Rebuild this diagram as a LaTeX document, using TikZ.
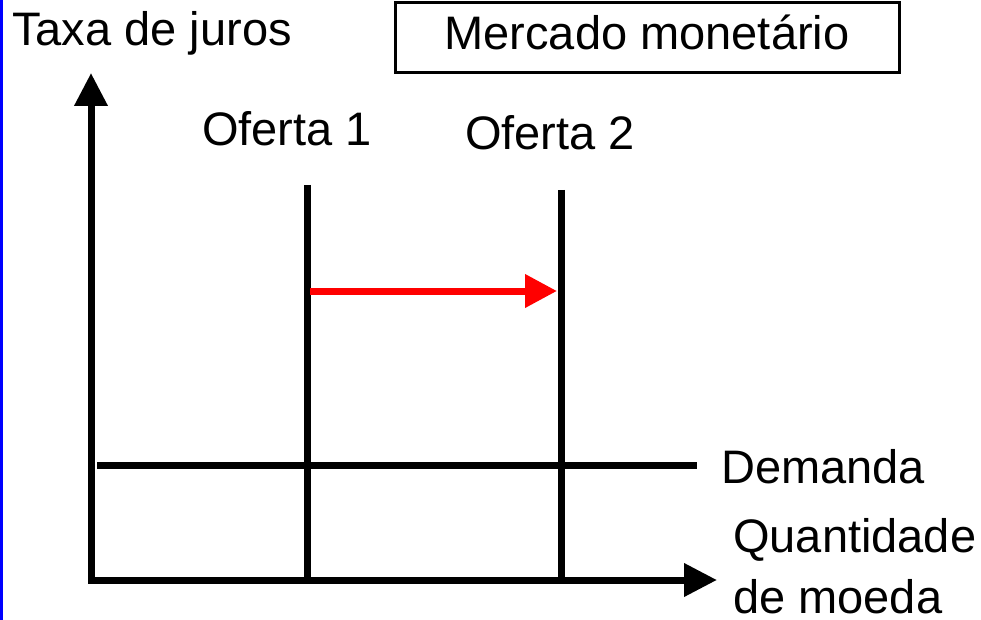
\documentclass[tikz,border=0pt]{standalone}
\usepackage{fontspec}
\setmainfont{Liberation Sans}
\usetikzlibrary{arrows.meta}
\tikzstyle{schedule}=[draw,line width=7pt]
\tikzstyle{axisline}=[draw,line width=7pt,line join=miter,{Triangle[length=33pt,width=32pt]}-{Triangle[length=33pt,width=32pt]}]
\tikzstyle{shiftarrow}=[draw,red,line width=7pt,-{Triangle[length=32pt,width=32pt]}]
\tikzstyle{txt}=[font=\fontsize{47}{61}\selectfont,inner sep=0pt,anchor=base west]

\begin{document}
\begin{tikzpicture}[x=1pt,y=-1pt]

    \useasboundingbox (0,0) rectangle (981,620);
    \fill[blue] (0,0) rectangle (3,620);

    % axes
    \coordinate (ytop) at (91,73);
    \coordinate (O) at (91,580);
    \coordinate (xend) at (717,580);
    \path[axisline] (ytop) -- (O) -- (xend);

    % supply and demand
    \foreach \name/\x/\y in {s1/307/185, s2/561/190}
    {
        \coordinate (\name top) at (\x,\y);
        \coordinate (\name bot) at (\x,584);
        \path[schedule] (\name top) -- (\name bot);
    }
    \coordinate (dl) at (97,465);
    \coordinate (dr) at (697,465);
    \path[schedule] (dl) -- (dr);

    \coordinate (shl) at (310,291);
    \coordinate (shr) at (557,291);
    \path[shiftarrow] (shl) -- (shr);

    % labels
    \node[txt] (taxa) at (12,46) {Taxa de juros};
    \node[txt] (of1) at (202,146) {Oferta 1};
    \node[txt] (of2) at (465,150) {Oferta 2};
    \node[txt] (dem) at (721,483) {Demanda};
    \node[txt, align=left] (qtd) at (733,613) {Quantidade\\de moeda};
    \node[draw, line width=3pt, font=\fontsize{47}{61}\selectfont, inner sep=0pt,
          minimum width=504pt, minimum height=70pt, text height=34pt, text depth=10pt]
          (mercado) at (647,38) {Mercado monetário};

\end{tikzpicture}
\end{document}
